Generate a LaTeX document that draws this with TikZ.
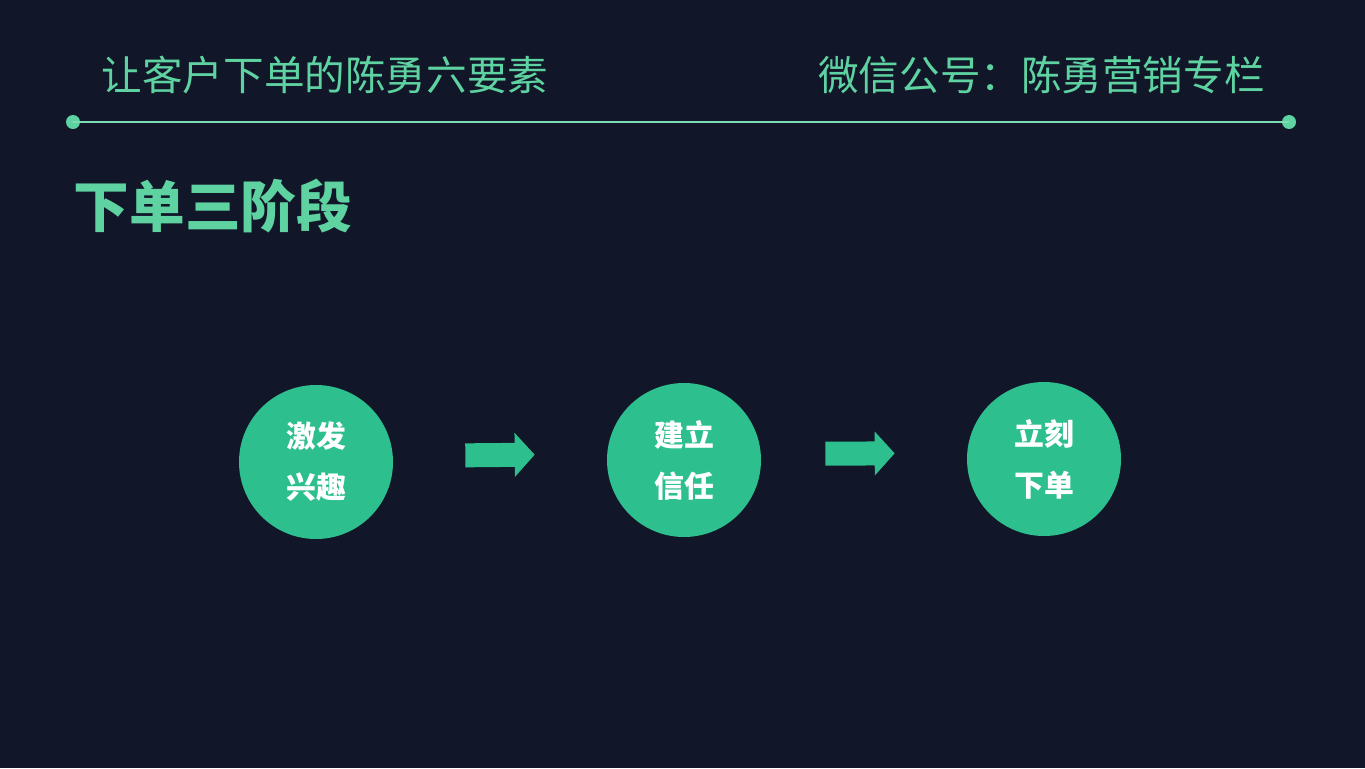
\documentclass[tikz,border=0pt]{standalone}
\usepackage{fontspec}
\newfontfamily\cjk{Noto Sans CJK SC}
\usetikzlibrary{arrows.meta}
\definecolor{bgnavy}{HTML}{111628}
\definecolor{mint}{HTML}{5ED3A1}
\definecolor{leaf}{HTML}{2DC08E}

\begin{document}
\begin{tikzpicture}[x=0.02cm, y=-0.02cm, line cap=round,
  stage/.style={circle, fill=leaf, minimum size=154*0.02cm, inner sep=0pt,
    text=white, align=center, font=\cjk\bfseries\fontsize{17}{29}\selectfont},
  flow/.style={leaf, line width=0.48cm, line cap=butt,
    -{Triangle[length=0.4cm, width=0.86cm]}, shorten >=1.44cm},
  heading/.style={text=mint, inner sep=0pt, font=\cjk\fontsize{23.1}{26}\selectfont}]
  \fill[bgnavy] (0,0) rectangle (1365,768);
  \node[heading] (toptitle) at (325,75) {让客户下单的陈勇六要素};
  \node[heading] (account) at (1041.5,75) {微信公号：陈勇营销专栏};
  \fill[mint] (73,122) circle (7) coordinate (lend);
  \fill[mint] (1289,122) circle (7) coordinate (rend);
  \draw[mint!80!white, line width=0.6pt] (lend) -- (rend);
  \node[text=mint, inner sep=0pt, font=\cjk\bfseries\fontsize{31.7}{34}\selectfont]
    (stages) at (213,206) {下单三阶段};
  \node[stage] (c1) at (316,462) {激发\\兴趣};
  \node[stage] (c2) at (684,460) {建立\\信任};
  \node[stage] (c3) at (1044,459) {立刻\\下单};
  \draw[flow, shorten <=1.44cm] ([yshift=0.12cm]c1.east) -- ([yshift=0.12cm]c2.west);
  \draw[flow, shorten <=1.28cm] ([yshift=0.12cm]c2.east) -- ([yshift=0.12cm]c3.west);
\end{tikzpicture}
\end{document}
